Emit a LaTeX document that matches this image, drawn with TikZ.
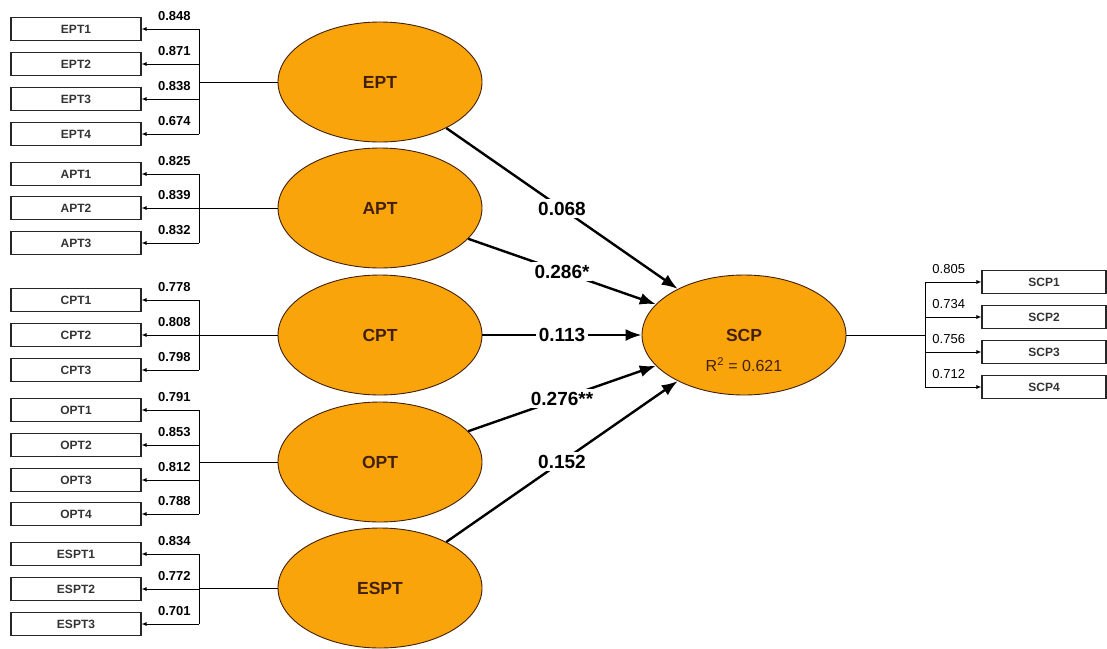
\documentclass[tikz,border=0pt]{standalone}
\usepackage{fontspec}
\setmainfont{Liberation Sans}
\usepackage{tikz}
\usetikzlibrary{arrows.meta,shapes.geometric}

\definecolor{lvorange}{RGB}{250,164,12}
\definecolor{lvbrown}{RGB}{66,32,8}

\tikzset{
  latent/.style={ellipse,draw=lvbrown,fill=lvorange,line width=0.9pt,minimum width=204pt,minimum height=120pt,inner sep=0pt,text=lvbrown,font=\fontsize{17.5}{17.5}\selectfont\bfseries},
  indicator/.style={draw=black!85,line width=1.1pt,minimum width=130pt,minimum height=23pt,inner sep=0pt,text=black!80,font=\fontsize{12}{12}\selectfont\bfseries},
  rindicator/.style={indicator,minimum width=124pt},
  loading/.style={->,>={Latex[length=5pt,width=4pt]},line width=0.9pt},
  coef/.style={->,>={Latex[length=16pt,width=12pt]},line width=2.4pt},
  coeflabel/.style={fill=white,inner sep=3pt,font=\fontsize{19}{19}\selectfont\bfseries},
  lload/.style={above=7pt,inner sep=1pt,font=\fontsize{13}{13}\selectfont\bfseries},
  rload/.style={above=7pt,inner sep=1pt,font=\fontsize{13}{13}\selectfont}
}

\begin{document}
\begin{tikzpicture}[x=1pt,y=-1pt]
\useasboundingbox (0,0) rectangle (1107,648);

\node[latent] (EPT) at (380,82) {EPT};
\node[latent] (APT) at (380,208) {APT};
\node[latent] (CPT) at (380,335) {CPT};
\node[latent] (OPT) at (380,462) {OPT};
\node[latent] (ESPT) at (380,588) {ESPT};
\node[latent,label={[text=lvbrown,font=\fontsize{16}{16}\selectfont,yshift=-30pt]center:R\textsuperscript{2} = 0.621}] (SCP) at (744,335) {SCP};

\node[indicator] (EPT1) at (76,29) {EPT1};
\node[indicator] (EPT2) at (76,64) {EPT2};
\node[indicator] (EPT3) at (76,99) {EPT3};
\node[indicator] (EPT4) at (76,134) {EPT4};
\node[indicator] (APT1) at (76,174) {APT1};
\node[indicator] (APT2) at (76,208) {APT2};
\node[indicator] (APT3) at (76,243) {APT3};
\node[indicator] (CPT1) at (76,300) {CPT1};
\node[indicator] (CPT2) at (76,335) {CPT2};
\node[indicator] (CPT3) at (76,370) {CPT3};
\node[indicator] (OPT1) at (76,410) {OPT1};
\node[indicator] (OPT2) at (76,445) {OPT2};
\node[indicator] (OPT3) at (76,480) {OPT3};
\node[indicator] (OPT4) at (76,514) {OPT4};
\node[indicator] (ESPT1) at (76,554) {ESPT1};
\node[indicator] (ESPT2) at (76,589) {ESPT2};
\node[indicator] (ESPT3) at (76,624) {ESPT3};
\node[rindicator] (SCP1) at (1044,282) {SCP1};
\node[rindicator] (SCP2) at (1044,317) {SCP2};
\node[rindicator] (SCP3) at (1044,352) {SCP3};
\node[rindicator] (SCP4) at (1044,387) {SCP4};

\coordinate (eptj) at (199,82);
\coordinate (aptj) at (199,208);
\coordinate (cptj) at (199,335);
\coordinate (optj) at (199,462);
\coordinate (esptj) at (199,588);
\coordinate (scpj) at (925,335);

\draw[line width=0.9pt] (EPT) -- (eptj);
\draw[line width=0.9pt] (eptj |- EPT1) -- (eptj |- EPT4);
\draw[loading] (eptj |- EPT1) -- (EPT1) node[lload,pos=0.43] {0.848};
\draw[loading] (eptj |- EPT2) -- (EPT2) node[lload,pos=0.43] {0.871};
\draw[loading] (eptj |- EPT3) -- (EPT3) node[lload,pos=0.43] {0.838};
\draw[loading] (eptj |- EPT4) -- (EPT4) node[lload,pos=0.43] {0.674};

\draw[line width=0.9pt] (APT) -- (aptj);
\draw[line width=0.9pt] (aptj |- APT1) -- (aptj |- APT3);
\draw[loading] (aptj |- APT1) -- (APT1) node[lload,pos=0.43] {0.825};
\draw[loading] (aptj |- APT2) -- (APT2) node[lload,pos=0.43] {0.839};
\draw[loading] (aptj |- APT3) -- (APT3) node[lload,pos=0.43] {0.832};

\draw[line width=0.9pt] (CPT) -- (cptj);
\draw[line width=0.9pt] (cptj |- CPT1) -- (cptj |- CPT3);
\draw[loading] (cptj |- CPT1) -- (CPT1) node[lload,pos=0.43] {0.778};
\draw[loading] (cptj |- CPT2) -- (CPT2) node[lload,pos=0.43] {0.808};
\draw[loading] (cptj |- CPT3) -- (CPT3) node[lload,pos=0.43] {0.798};

\draw[line width=0.9pt] (OPT) -- (optj);
\draw[line width=0.9pt] (optj |- OPT1) -- (optj |- OPT4);
\draw[loading] (optj |- OPT1) -- (OPT1) node[lload,pos=0.43] {0.791};
\draw[loading] (optj |- OPT2) -- (OPT2) node[lload,pos=0.43] {0.853};
\draw[loading] (optj |- OPT3) -- (OPT3) node[lload,pos=0.43] {0.812};
\draw[loading] (optj |- OPT4) -- (OPT4) node[lload,pos=0.43] {0.788};

\draw[line width=0.9pt] (ESPT) -- (esptj);
\draw[line width=0.9pt] (esptj |- ESPT1) -- (esptj |- ESPT3);
\draw[loading] (esptj |- ESPT1) -- (ESPT1) node[lload,pos=0.43] {0.834};
\draw[loading] (esptj |- ESPT2) -- (ESPT2) node[lload,pos=0.43] {0.772};
\draw[loading] (esptj |- ESPT3) -- (ESPT3) node[lload,pos=0.43] {0.701};

\draw[line width=0.9pt] (SCP) -- (scpj);
\draw[line width=0.9pt] (scpj |- SCP1) -- (scpj |- SCP4);
\draw[loading] (scpj |- SCP1) -- (SCP1) node[rload,pos=0.42] {0.805};
\draw[loading] (scpj |- SCP2) -- (SCP2) node[rload,pos=0.42] {0.734};
\draw[loading] (scpj |- SCP3) -- (SCP3) node[rload,pos=0.42] {0.756};
\draw[loading] (scpj |- SCP4) -- (SCP4) node[rload,pos=0.42] {0.712};

\draw[coef] (EPT) -- (SCP) node[coeflabel,midway] {0.068};
\draw[coef] (APT) -- (SCP) node[coeflabel,midway] {0.286*};
\draw[coef] (CPT) -- (SCP) node[coeflabel,midway] {0.113};
\draw[coef] (OPT) -- (SCP) node[coeflabel,midway] {0.276**};
\draw[coef] (ESPT) -- (SCP) node[coeflabel,midway] {0.152};
\end{tikzpicture}
\end{document}
